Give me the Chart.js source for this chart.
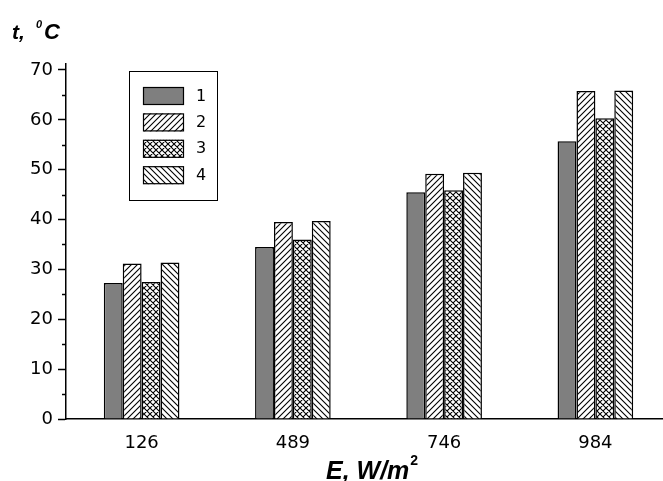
<!DOCTYPE html>
<html>
<head>
<meta charset="utf-8">
<script src="https://cdn.jsdelivr.net/npm/chart.js@4"></script>
<style>
html,body{margin:0;padding:0;background:#fff;overflow:hidden;}
canvas{display:block;}
</style>
</head>
<body>
<canvas id="c" width="672" height="481"></canvas>
<script>
/* data */
let categories=["126","489","746","984"];
let seriesNames=["1","2","3","4"];
let s1=[27.3,34.5,45.5,55.7];
let s2=[31.2,39.5,49.2,65.8];
let s3=[27.5,36.0,45.9,60.3];
let s4=[31.4,39.7,49.4,65.9];
let yTicks=[0,10,20,30,40,50,60,70];
let yMinor=[5,15,25,35,45,55,65];

const FONT="'Liberation Sans', Arial, sans-serif";
const TICKFONT="'DejaVu Sans', sans-serif";

/* hatch patterns */
function hatch(fwd,back,size){
let c=document.createElement("canvas");
c.width=c.height=size;
let g=c.getContext("2d");
g.fillStyle="#fff"; g.fillRect(0,0,size,size);
g.strokeStyle="#000"; g.lineWidth=1.1;
g.beginPath();
if(fwd){
g.moveTo(-1,1); g.lineTo(1,-1);
g.moveTo(-1,size+1); g.lineTo(size+1,-1);
g.moveTo(size-1,size+1); g.lineTo(size+1,size-1);
}
if(back){
g.moveTo(-1,-1); g.lineTo(size+1,size+1);
g.moveTo(size-1,-1); g.lineTo(size+1,1);
g.moveTo(-1,size-1); g.lineTo(1,size+1);
}
g.stroke();
return g.createPattern(c,"repeat");
}

let fills=["#7f7f7f",hatch(true,false,6),hatch(true,true,6),hatch(false,true,6)];

/* legend + titles + minor ticks */
const extras={
id:"extras",
afterDraw(chart){
let ctx=chart.ctx, y=chart.scales.y, a=chart.chartArea;
ctx.save();

// minor ticks
ctx.strokeStyle="#000"; ctx.lineWidth=1.5;
yMinor.forEach(v=>{
let p=Math.round(y.getPixelForValue(v))+0.5;
ctx.beginPath(); ctx.moveTo(a.left-4,p); ctx.lineTo(a.left,p); ctx.stroke();
});

// legend box
let lx=a.left+63, ly=71;
ctx.lineWidth=1;
ctx.strokeRect(lx+0.5,ly+0.5,88,129);
chart.data.datasets.forEach((d,i)=>{
let sy=ly+16+i*26.4;
ctx.fillStyle=d.backgroundColor;
ctx.fillRect(lx+14,sy,41,18);
ctx.lineWidth=1.2; ctx.strokeStyle="#000";
ctx.strokeRect(lx+14.5,sy+0.5,40,17);
ctx.fillStyle="#000";
ctx.font="16px "+TICKFONT;
ctx.textBaseline="middle"; ctx.textAlign="left";
ctx.fillText(d.label,lx+67,sy+9.5);
});

// axis titles
ctx.fillStyle="#000";
ctx.textBaseline="alphabetic"; ctx.textAlign="left";
ctx.font="italic bold 21px "+FONT;
ctx.fillText("t,",12,39);
ctx.font="italic bold 11px "+FONT;
ctx.fillText("0",36,28);
ctx.font="italic bold 22px "+FONT;
ctx.fillText("C",44,39);

ctx.font="italic bold 25px "+FONT;
let t="E, W/m";
ctx.fillText(t,326,479);
let w=ctx.measureText(t).width;
ctx.font="bold 14px "+FONT;
ctx.fillText("2",326+w+1,465);
ctx.restore();
}
};

new Chart(document.getElementById("c"),{
type:"bar",
data:{
labels:categories,
datasets:[s1,s2,s3,s4].map((d,i)=>({
label:seriesNames[i],
data:d,
backgroundColor:fills[i],
borderColor:"#000",
borderWidth:1.5
}))
},
options:{
responsive:false,
animation:false,
devicePixelRatio:1,
layout:{padding:{top:64,left:0,right:1,bottom:0}},
categoryPercentage:0.5,
barPercentage:1.0,
plugins:{legend:{display:false},tooltip:{enabled:false}},
scales:{
x:{
type:"category",
offset:true,
grid:{display:false},
border:{display:true,color:"#000",width:1.5},
ticks:{color:"#000",font:{family:TICKFONT,size:18},padding:6},
afterFit(s){ s.height=62; }
},
y:{
min:0,max:71.2,
afterBuildTicks(s){ s.ticks=yTicks.map(v=>({value:v})); },
grid:{display:true,drawOnChartArea:false,drawTicks:true,tickLength:8,tickColor:"#000",tickWidth:1.5},
border:{display:true,color:"#000",width:1.5},
ticks:{color:"#000",font:{family:TICKFONT,size:18},padding:5},
afterFit(s){ s.width=66; }
}
}
},
plugins:[extras]
});
</script>
</body>
</html>
